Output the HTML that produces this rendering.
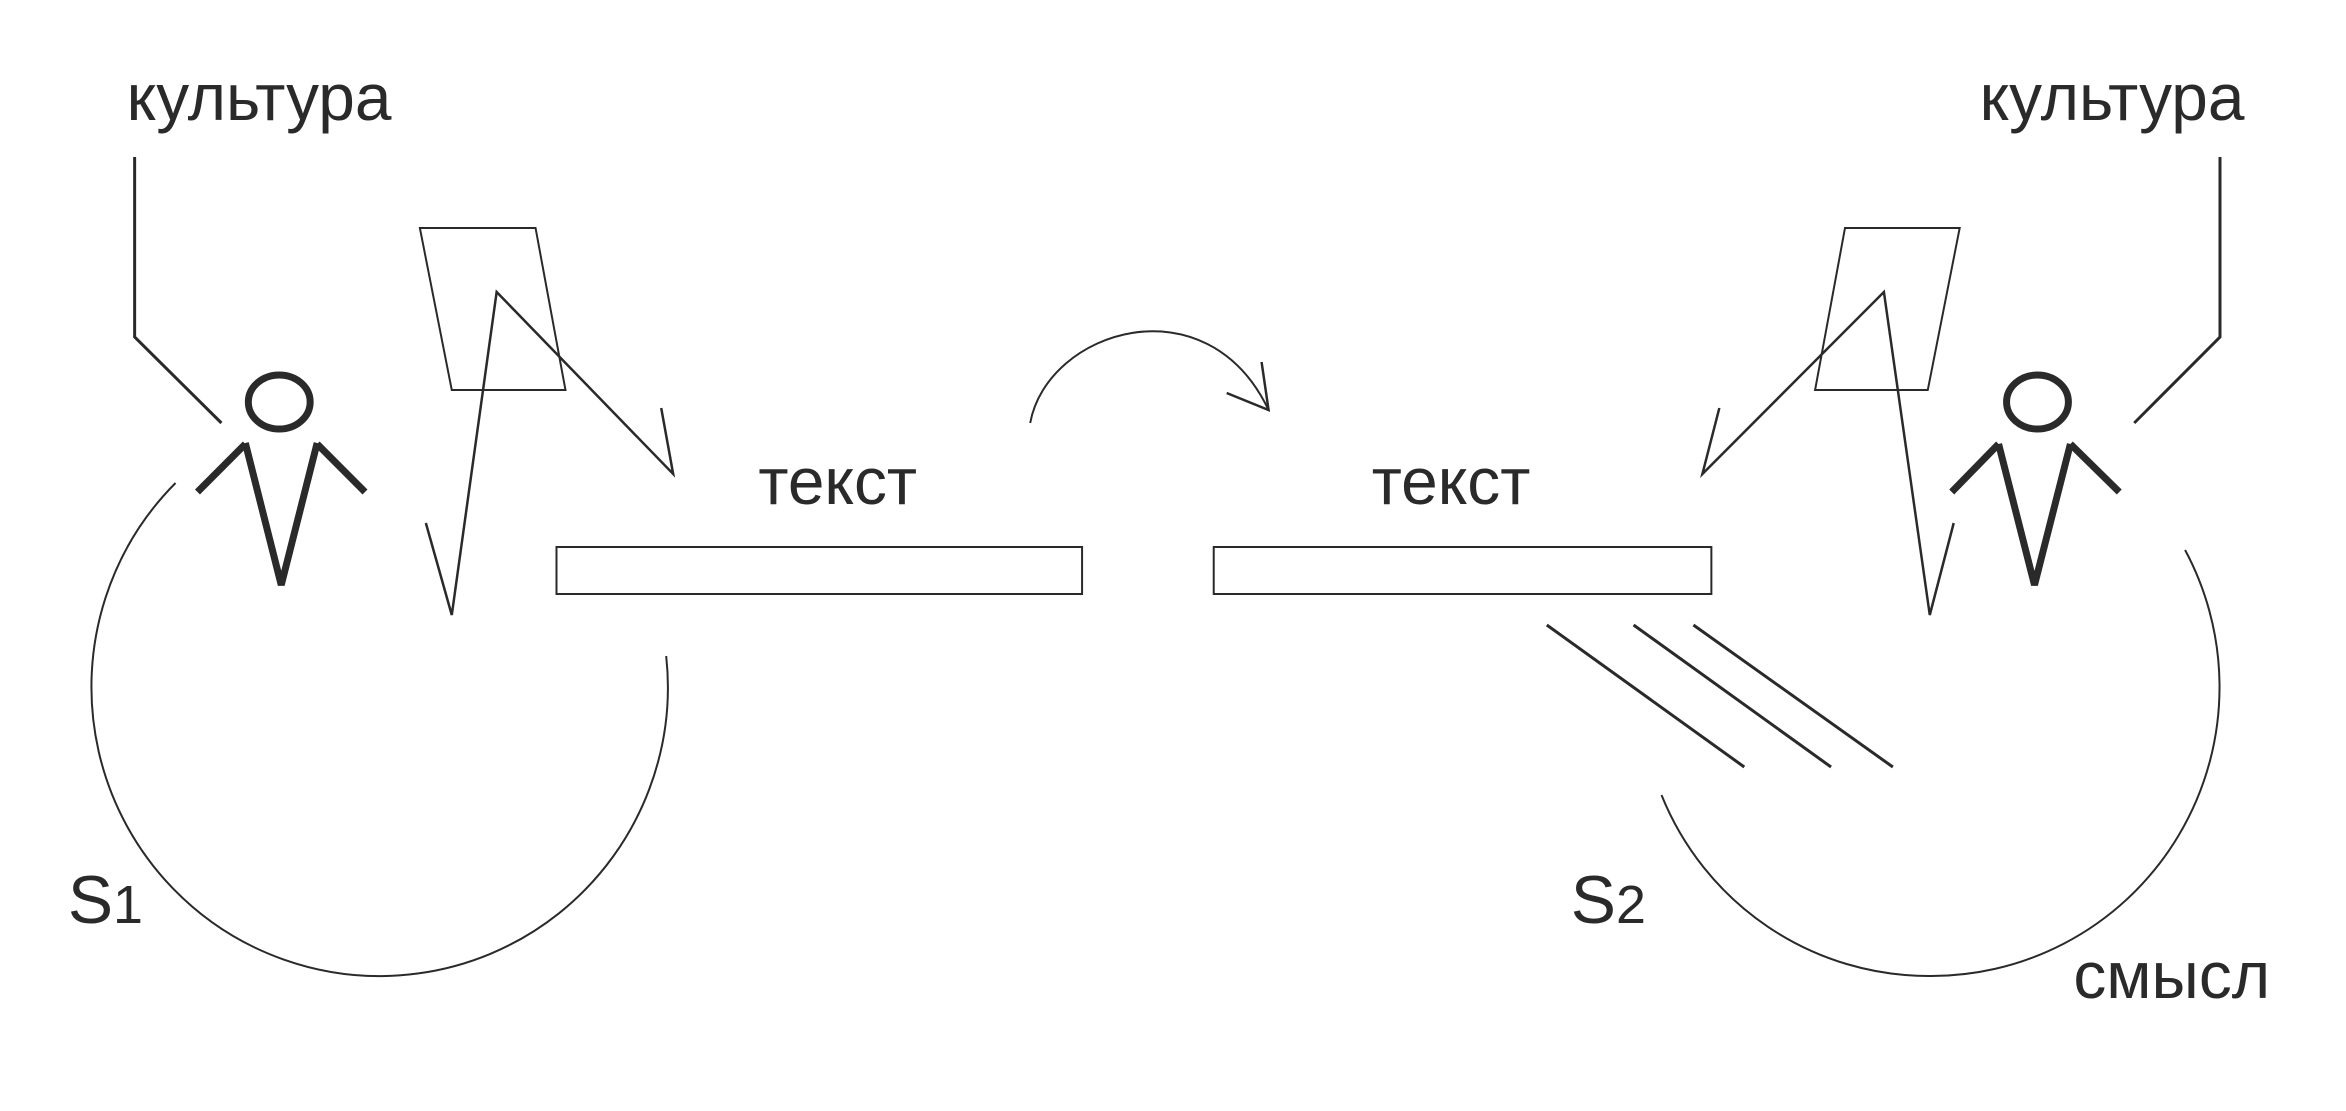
<!DOCTYPE html>
<html><head><meta charset="utf-8"><style>
html,body{margin:0;padding:0;background:#fff;}
svg{display:block;}
text{font-family:"Liberation Sans",Arial,sans-serif;fill:#2a2a2a;}
</style></head><body>
<svg width="2346" height="1111" viewBox="0 0 2346 1111" xmlns="http://www.w3.org/2000/svg">
<g transform="scale(0.9973,1)">
<g fill="none" stroke="#2a2a2a" stroke-width="2.5">
<polyline points="135,157 135,337 222,423" stroke-width="3"/>
<path d="M176,483 A289,289 0 1 0 668,656" stroke-width="2"/>
<polygon points="421,228 537,228 567,390 453,390" stroke-width="2"/>
<polyline points="427,523 453,615 498,292 675,474 663,408"/>
<rect x="558" y="547" width="527" height="47" stroke-width="2"/>
<rect x="1217" y="547" width="499" height="47" stroke-width="2"/>
<path d="M1033,423 C1050,330 1210,280 1272,410" stroke-width="2"/>
<polyline points="1230,393 1272,410 1265,362"/>
<line x1="1551" y1="625" x2="1749" y2="767" stroke-width="3"/>
<line x1="1638" y1="625" x2="1836" y2="767" stroke-width="3"/>
<line x1="1698" y1="625" x2="1898" y2="767" stroke-width="3"/>
<path d="M2191,550 A289,289 0 0 1 1935,976 A289,289 0 0 1 1666,795" stroke-width="2"/>
<polygon points="1850,228 1965,228 1933,390 1820,390" stroke-width="2"/>
<polyline points="1724,408 1707,474 1889,292 1935,615 1959,523"/>
<polyline points="2226,157 2226,337 2140,423" stroke-width="3"/>
</g>
<g fill="none" stroke="#2a2a2a" stroke-width="7">
<ellipse cx="280" cy="402" rx="31" ry="27"/>
<polyline points="246,443 282,585 318,443"/>
<line x1="198" y1="492" x2="246" y2="444"/>
<line x1="318" y1="444" x2="366" y2="492"/>
<ellipse cx="2043" cy="402" rx="31" ry="27"/>
<polyline points="2004,444 2040,585 2076,444"/>
<line x1="1957" y1="492" x2="2004" y2="444"/>
<line x1="2076" y1="444" x2="2125" y2="492"/>
</g>
<text x="127" y="120" font-size="66">культура</text>
<text x="1985" y="120" font-size="66">культура</text>
<text x="840" y="504" font-size="66" text-anchor="middle">текст</text>
<text x="1455" y="504" font-size="66" text-anchor="middle">текст</text>
<text x="68" y="923" font-size="68">S<tspan font-size="54">1</tspan></text>
<text x="1575" y="923" font-size="68">S<tspan font-size="54">2</tspan></text>
<text x="2079" y="998" font-size="66">смысл</text>
</g>
</svg>
</body></html>
